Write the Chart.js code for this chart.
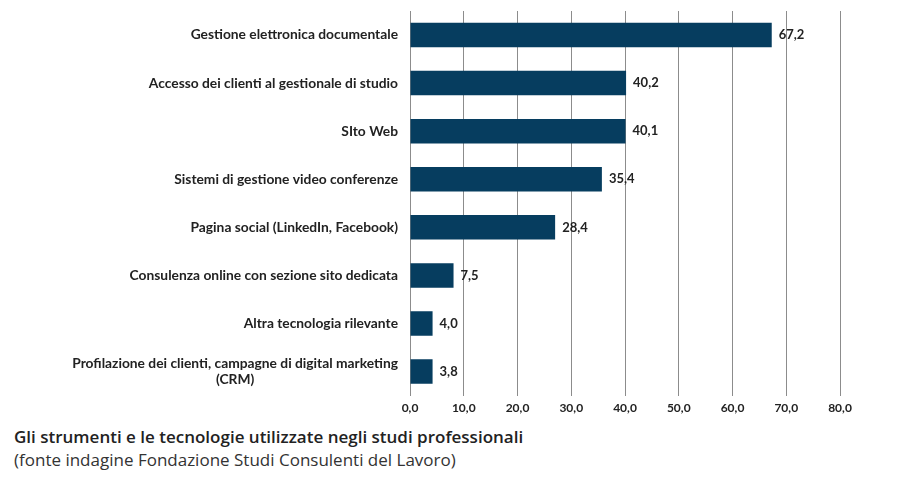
<!DOCTYPE html>
<html>
<head>
<meta charset="utf-8">
<script src="https://cdn.jsdelivr.net/npm/chart.js@4"></script>
<style>
  body { margin: 0; background: #fff; }
  #wrap { position: relative; width: 908px; height: 480px; }
  #chart { position: absolute; left: 0; top: 0; }
  .title { position: absolute; left: 14px; font-family: "Open Sans", sans-serif; color: #222; white-space: nowrap; }
  #t1 { top: 425px; font-size: 17px; font-weight: 600; }
  #t2 { top: 448px; font-size: 17px; font-weight: 400; color: #333; }
</style>
</head>
<body>
<div id="wrap">
  <canvas id="chart" width="908" height="424"></canvas>
  <div class="title" id="t1">Gli strumenti e le tecnologie utilizzate negli studi professionali</div>
  <div class="title" id="t2">(fonte indagine Fondazione Studi Consulenti del Lavoro)</div>
</div>
<script>
const categories = [
  ["Gestione elettronica documentale"],
  ["Accesso dei clienti al gestionale di studio"],
  ["SIto Web"],
  ["Sistemi di gestione video conferenze"],
  ["Pagina social (LinkedIn, Facebook)"],
  ["Consulenza online con sezione sito dedicata"],
  ["Altra tecnologia rilevante"],
  ["Profilazione dei clienti, campagne di digital marketing", "(CRM)"]
];
// lunghezze delle barre come disegnate nel grafico
const values = [67.3, 40.2, 40.1, 35.7, 27.0, 8.1, 4.2, 4.2];
// etichette stampate accanto alle barre
const valueLabels = ["67,2", "40,2", "40,1", "35,4", "28,4", "7,5", "4,0", "3,8"];
const xTicks = [0, 10, 20, 30, 40, 50, 60, 70, 80];

const barColor = "#063d5f";
const labelFont = "bold 13.8px Lato";

function fmt(v) {
  return v.toFixed(1).replace(".", ",");
}

// etichette categorie (a sinistra) e valori (a destra delle barre)
const labelsPlugin = {
  id: "labelsPlugin",
  afterDraw(chart) {
    const ctx = chart.ctx;
    const meta = chart.getDatasetMeta(0);
    const right = chart.chartArea.left - 12;
    ctx.save();
    ctx.fillStyle = "#222";
    ctx.textBaseline = "middle";
    meta.data.forEach((bar, i) => {
      const lines = categories[i];
      const lh = 16;
      const y0 = bar.y - (lines.length - 1) * lh / 2;
      ctx.font = labelFont;
      if (lines.length === 1) {
        ctx.textAlign = "right";
        ctx.fillText(lines[0], right, y0);
      } else {
        const w = Math.max(...lines.map(l => ctx.measureText(l).width));
        ctx.textAlign = "center";
        lines.forEach((l, j) => ctx.fillText(l, right - w / 2, y0 + j * lh));
      }
      ctx.font = "bold 13px Lato";
      ctx.textAlign = "left";
      ctx.fillText(valueLabels[i], bar.x + 7, bar.y);
    });
    ctx.restore();
  }
};

new Chart(document.getElementById("chart"), {
  type: "bar",
  data: {
    labels: categories.map(c => c.join(" ")),
    datasets: [{
      data: values,
      backgroundColor: barColor,
      barPercentage: 0.51,
      categoryPercentage: 1
    }]
  },
  options: {
    indexAxis: "y",
    responsive: false,
    animation: false,
    layout: { padding: { left: 410, right: 68, top: 11, bottom: 4 } },
    plugins: {
      legend: { display: false },
      tooltip: { enabled: false }
    },
    scales: {
      x: {
        min: 0,
        max: 80,
        afterBuildTicks: (axis) => { axis.ticks = xTicks.map(v => ({ value: v })); },
        grid: { color: "#8c8c8c", lineWidth: 1, drawTicks: false },
        border: { display: false },
        ticks: {
          padding: 5,
          color: "#222",
          font: { family: "Lato", weight: "bold", size: 12 },
          callback: (v) => fmt(v)
        }
      },
      y: {
        display: false
      }
    }
  },
  plugins: [labelsPlugin]
});
</script>
</body>
</html>
